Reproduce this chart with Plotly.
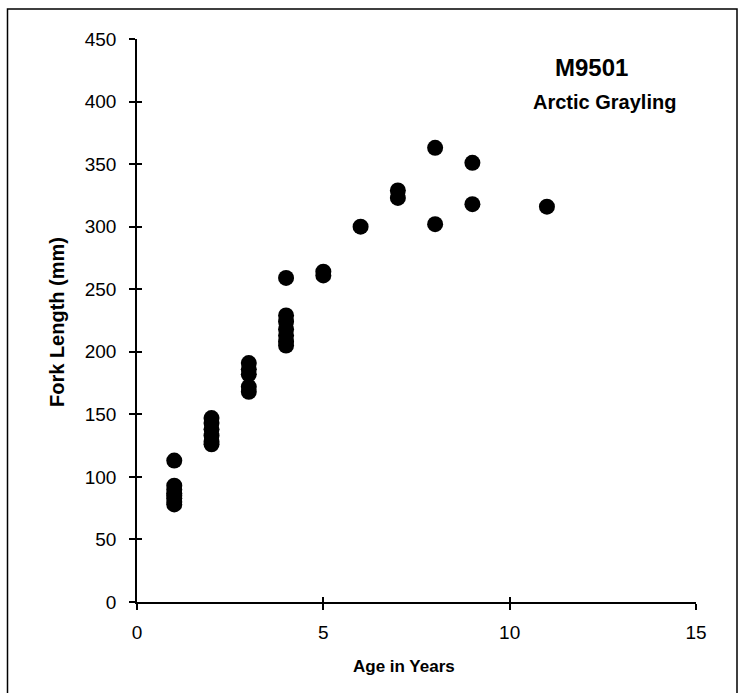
import plotly.graph_objects as go

age = [1, 1, 1, 1, 1, 1, 1, 1,
       2, 2, 2, 2, 2, 2,
       3, 3, 3, 3, 3,
       4, 4, 4, 4, 4, 4, 4,
       5, 5, 6, 7, 7, 8, 8, 9, 9, 11]
fork_length = [113, 93, 90, 87, 85, 83, 80, 78,
               147, 143, 138, 133, 128, 126,
               191, 186, 182, 172, 168,
               259, 229, 224, 218, 213, 208, 205,
               264, 261, 300, 329, 323, 363, 302, 351, 318, 316]

x_ticks = [0, 5, 10, 15]
y_ticks = [0, 50, 100, 150, 200, 250, 300, 350, 400, 450]

W, H = 740, 693
ml, mr, mt, mb = 137, 44, 39, 91
pw, ph = W - ml - mr, H - mt - mb

def px(x):  # page pixel -> paper
    return (x - ml) / pw

def py(y):
    return (H - mb - y) / ph

fig = go.Figure()
fig.add_trace(go.Scatter(x=age, y=fork_length, mode="markers",
                         marker=dict(size=16, color="black"),
                         showlegend=False, hoverinfo="skip"))
fig.add_trace(go.Scatter(x=[None], y=[None], xaxis="x2", yaxis="y2", showlegend=False))

font = dict(family="Liberation Sans, Arial, sans-serif", color="black")
fig.update_layout(
    width=W, height=H,
    margin=dict(l=ml, r=mr, t=mt, b=mb),
    paper_bgcolor="white", plot_bgcolor="white",
    font=font,
    xaxis=dict(range=[0, 15], tickvals=x_ticks, showgrid=False, zeroline=False,
               showline=True, linecolor="black", linewidth=1.5,
               ticks="outside", ticklen=6, tickcolor="black", tickwidth=1.5,
               ticklabelstandoff=6, automargin=False,
               tickfont=dict(size=19, **font)),
    yaxis=dict(range=[0, 450], tickvals=y_ticks, showgrid=False, zeroline=False,
               showline=True, linecolor="black", linewidth=1.5,
               ticks="outside", ticklen=6, tickcolor="black", tickwidth=1.5,
               ticklabelstandoff=9, automargin=False,
               tickfont=dict(size=19, **font)),
    xaxis2=dict(range=[0, 15], tickvals=x_ticks, overlaying="x", showgrid=False, zeroline=False,
                showticklabels=False, ticks="inside", ticklen=5, tickcolor="black", tickwidth=1.5,
                side="bottom", anchor="y2"),
    yaxis2=dict(range=[0, 450], tickvals=y_ticks, overlaying="y", showgrid=False, zeroline=False,
                showticklabels=False, ticks="inside", ticklen=5, tickcolor="black", tickwidth=1.5,
                side="left", anchor="x2"),
    shapes=[dict(type="rect", xref="paper", yref="paper",
                 x0=px(7.5), x1=px(737), y0=py(720), y1=py(9),
                 line=dict(color="black", width=1.5), fillcolor="rgba(0,0,0,0)", layer="below")],
    annotations=[
        dict(text="<b>M9501</b>", xref="paper", yref="paper", x=px(591), y=py(68),
             showarrow=False, font=dict(size=24, **font), xanchor="center", yanchor="middle"),
        dict(text="<b>Arctic Grayling</b>", xref="paper", yref="paper", x=px(604), y=py(102),
             showarrow=False, font=dict(size=20, **font), xanchor="center", yanchor="middle"),
        dict(text="<b>Age in Years</b>", xref="paper", yref="paper", x=px(404), y=py(666),
             showarrow=False, font=dict(size=17, **font), xanchor="center", yanchor="middle"),
        dict(text="<b>Fork Length (mm)</b>", xref="paper", yref="paper", x=px(57), y=py(322),
             showarrow=False, textangle=-90, font=dict(size=20, **font),
             xanchor="center", yanchor="middle"),
    ],
)

fig.write_html("out.html", config={"displayModeBar": False},
               post_script="document.body.style.margin='0';document.body.style.overflow='hidden';")
